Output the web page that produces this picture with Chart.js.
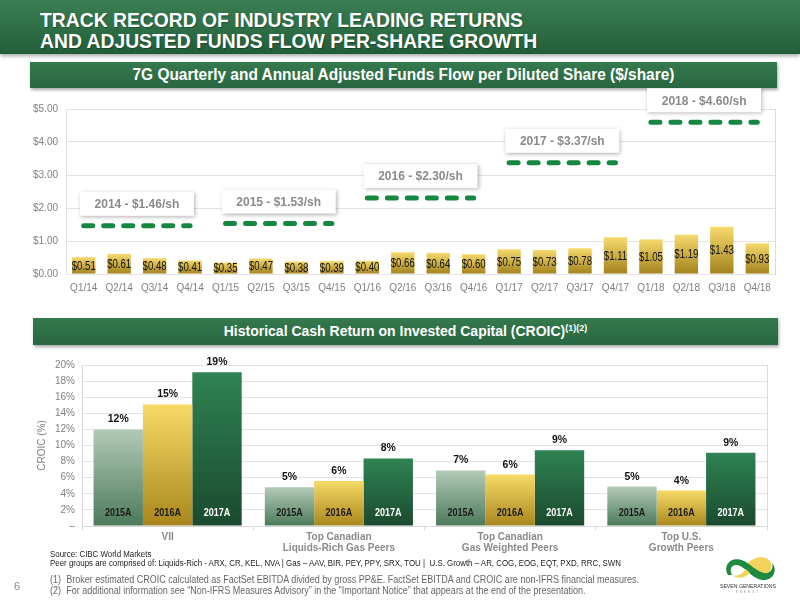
<!DOCTYPE html>
<html>
<head>
<meta charset="utf-8">
<script src="https://cdn.jsdelivr.net/npm/chart.js@4.4.1/dist/chart.umd.min.js"></script>
<style>
  body { margin: 0; width: 800px; height: 600px; position: relative; overflow: hidden; background: #fff; font-family: 'Liberation Sans', Arial, sans-serif; }
  .band { position: absolute; left: 0; top: 0; width: 800px; height: 54px; background: linear-gradient(#3b7e52, #2b6b43 65%, #215d38); box-shadow: 0 2px 4px rgba(0,0,0,.35); }
  .band h1 { margin: 0; position: absolute; left: 40px; top: 9px; color: #fff; font: bold 21px/21px 'Liberation Sans', Arial, sans-serif; white-space: nowrap; transform: scaleX(0.92); transform-origin: 0 0; text-shadow: 1px 1px 1px rgba(0,0,0,.3); }
  .section { position: absolute; background: linear-gradient(#36794c, #286741); box-shadow: 1px 2px 3px rgba(0,0,0,.35); color: #fff; text-align: center; }
  .section div { white-space: nowrap; }
  .s1 { left: 30px; top: 62px; width: 747px; height: 26px; font: bold 16px/26px 'Liberation Sans', Arial, sans-serif; }
  .s1 div { transform: scaleX(0.965); }
  .s2 { left: 33px; top: 318px; width: 745px; height: 27px; font: bold 14px/27px 'Liberation Sans', Arial, sans-serif; }
  .s2 sup { font-size: 9px; line-height: 0; vertical-align: 5px; }
  canvas { position: absolute; }
  #fundsFlow { left: 20px; top: 88px; }
  #croic { left: 20px; top: 352px; }
  .note { position: absolute; left: 50px; white-space: nowrap; transform-origin: 0 0; }
  .src { font-size: 8.5px; color: #222; transform: scaleX(0.93); }
  .fn { font-size: 10px; color: #666; transform: scaleX(0.9); }
  .fn span { display: inline-block; width: 18px; }
  .page { position: absolute; left: 14px; top: 580px; font-size: 11px; color: #888; }
  .logo { position: absolute; left: 716px; top: 551px; width: 64px; height: 46px; }
</style>
</head>
<body>
<div class="band"><h1>TRACK RECORD OF INDUSTRY LEADING RETURNS<br>AND ADJUSTED FUNDS FLOW PER-SHARE GROWTH</h1></div>
<div class="section s1"><div>7G Quarterly and Annual Adjusted Funds Flow per Diluted Share ($/share)</div></div>
<canvas id="fundsFlow" width="765" height="212" style="width:765px;height:212px"></canvas>
<div class="section s2"><div>Historical Cash Return on Invested Capital (CROIC)<sup>(1)(2)</sup></div></div>
<canvas id="croic" width="760" height="208" style="width:760px;height:208px"></canvas>

<div class="note src" style="top:549px">Source: CIBC World Markets</div>
<div class="note src" style="top:558px">Peer groups are comprised of: Liquids-Rich - ARX, CR, KEL, NVA | Gas – AAV, BIR, PEY, PPY, SRX, TOU |&nbsp; U.S. Growth – AR, COG, EOG, EQT, PXD, RRC, SWN</div>
<div class="note fn" style="top:574px"><span>(1)</span>Broker estimated CROIC calculated as FactSet EBITDA divided by gross PP&amp;E. FactSet EBITDA and CROIC are non-IFRS financial measures.</div>
<div class="note fn" style="top:585px"><span>(2)</span>For additional information see “Non-IFRS Measures Advisory” in the “Important Notice” that appears at the end of the presentation.</div>
<div class="page">6</div>
<svg class="logo" viewBox="0 0 64 46">
  <path d="M30 14 C 38 4, 52 4, 55 12 C 58 20, 48 28, 38 24 Z" fill="#f2d35c"/>
  <path d="M12 24 C 6 14, 16 4, 28 10 C 34 13, 40 20, 48 22 C 54 23, 58 18, 56 12 C 62 18, 58 30, 46 29 C 38 28, 32 20, 26 16 C 18 11, 12 16, 16 24 Z" fill="#1d8a3f"/>
  <path d="M16 24 C 20 28, 28 28, 34 22 L 30 18 C 26 24, 20 26, 16 24 Z" fill="#f2d35c"/>
  <text x="32" y="37" text-anchor="middle" font-family="Liberation Sans, Arial" font-size="5" fill="#333" textLength="56" lengthAdjust="spacingAndGlyphs">SEVEN GENERATIONS</text>
  <text x="32" y="42" text-anchor="middle" font-family="Liberation Sans, Arial" font-size="3" fill="#999" letter-spacing="2">ENERGY</text>
</svg>

<script>
// quarterly adjusted funds flow per diluted share ($/share)
const quarters = ['Q1/14', 'Q2/14', 'Q3/14', 'Q4/14', 'Q1/15', 'Q2/15', 'Q3/15', 'Q4/15', 'Q1/16', 'Q2/16',
  'Q3/16', 'Q4/16', 'Q1/17', 'Q2/17', 'Q3/17', 'Q4/17', 'Q1/18', 'Q2/18', 'Q3/18', 'Q4/18'];
const quarterValues = [0.51, 0.61, 0.48, 0.41, 0.35, 0.47, 0.38, 0.39, 0.40, 0.66,
  0.64, 0.60, 0.75, 0.73, 0.78, 1.11, 1.05, 1.19, 1.43, 0.93];
const years = ['2014', '2015', '2016', '2017', '2018'];
const annualValues = [1.46, 1.53, 2.30, 3.37, 4.60];
const dollarTicks = [0, 1, 2, 3, 4, 5];

// CROIC by peer group (%)
const peerGroups = [['VII'], ['Top Canadian', 'Liquids-Rich Gas Peers'], ['Top Canadian', 'Gas Weighted Peers'], ['Top U.S.', 'Growth Peers']];
const croicYears = ['2015A', '2016A', '2017A'];
const croic2015 = [12.0, 4.8, 6.9, 4.9];
const croic2016 = [15.1, 5.6, 6.4, 4.4];
const croic2017 = [19.1, 8.4, 9.4, 9.1];
const croicTicks = [0, 2, 4, 6, 8, 10, 12, 14, 16, 18, 20];

const GREY = '#808080';
const GRID = '#e3e3e3';
const SANS = "'Liberation Sans', Arial, sans-serif";

// no narrow face installed, so squeeze the regular one
function narrowText(ctx, text, x, y, sx) {
  ctx.save();
  ctx.translate(x, y);
  ctx.scale(sx, 1);
  ctx.fillText(text, 0, 0);
  ctx.restore();
}

// vertical gradient per bar, light at the top
function barGradient(top, bottom) {
  return (c) => {
    const chart = c.chart;
    const y = chart.scales.y;
    if (!y || c.type !== 'data') return top;
    const yTop = y.getPixelForValue(c.raw);
    const yBot = y.getPixelForValue(0);
    if (!isFinite(yTop) || !isFinite(yBot) || yTop === yBot) return top;
    const g = chart.ctx.createLinearGradient(0, yTop, 0, yBot);
    g.addColorStop(0, top);
    g.addColorStop(1, bottom);
    return g;
  };
}

const rightBorder = {
  id: 'rightBorder',
  beforeDatasetsDraw(chart) {
    const { ctx, chartArea: a } = chart;
    ctx.save();
    ctx.strokeStyle = '#dcdcdc';
    ctx.lineWidth = 1;
    ctx.beginPath();
    ctx.moveTo(Math.round(a.right) + 0.5, a.top);
    ctx.lineTo(Math.round(a.right) + 0.5, a.bottom);
    ctx.stroke();
    ctx.restore();
  }
};

// $ labels centred in each quarterly bar + annual call-out boxes
const fundsLabels = {
  id: 'fundsLabels',
  afterDatasetsDraw(chart) {
    const { ctx, scales: { x, y } } = chart;
    const meta = chart.getDatasetMeta(0);
    ctx.save();
    ctx.font = '12px ' + SANS;
    ctx.fillStyle = '#111';
    ctx.textAlign = 'center';
    ctx.textBaseline = 'middle';
    meta.data.forEach((bar, i) => {
      narrowText(ctx, '$' + quarterValues[i].toFixed(2), bar.x, (bar.y + bar.base) / 2 + 1, 0.8);
    });
    ctx.restore();

    years.forEach((yr, k) => {
      const cx = (x.getPixelForValue(k * 4) + x.getPixelForValue(k * 4 + 3)) / 2;
      const ly = y.getPixelForValue(annualValues[k]);
      const w = 114, h = 24;
      const bx = cx - w / 2, by = ly - 10 - h;
      ctx.save();
      ctx.shadowColor = 'rgba(0,0,0,0.3)';
      ctx.shadowBlur = 4;
      ctx.shadowOffsetX = 1;
      ctx.shadowOffsetY = 1;
      ctx.fillStyle = '#fff';
      ctx.fillRect(bx, by, w, h);
      ctx.restore();
      ctx.save();
      ctx.font = 'bold 12px ' + SANS;
      ctx.fillStyle = '#8a8a8a';
      ctx.textAlign = 'center';
      ctx.textBaseline = 'middle';
      ctx.fillText(yr + ' - $' + annualValues[k].toFixed(2) + '/sh', cx, by + h / 2 + 1);
      ctx.restore();
    });
  }
};

const annualLines = years.map((yr, k) => ({
  type: 'line',
  label: yr,
  data: quarters.map((q, i) => (Math.floor(i / 4) === k ? annualValues[k] : null)),
  borderColor: '#15873f',
  borderWidth: 5,
  borderDash: [9, 11],
  borderCapStyle: 'round',
  pointRadius: 0,
  spanGaps: false,
  order: 0
}));

new Chart(document.getElementById('fundsFlow'), {
  type: 'bar',
  data: {
    labels: quarters,
    datasets: [{
      label: 'Adjusted funds flow per share',
      data: quarterValues,
      backgroundColor: barGradient('#f6da6c', '#a3821d'),
      borderWidth: 0,
      categoryPercentage: 1,
      barPercentage: 0.66,
      order: 1
    }, ...annualLines]
  },
  options: {
    responsive: false,
    animation: false,
    layout: { padding: { top: 21, right: 10, left: 0, bottom: 0 } },
    plugins: { legend: { display: false }, tooltip: { enabled: false } },
    scales: {
      x: {
        grid: { display: false, drawTicks: false, tickLength: 0 },
        border: { color: GRID },
        ticks: { color: GREY, font: { size: 10, family: SANS }, padding: 8, maxRotation: 0, autoSkip: false },
        afterFit(s) { s.height = 26; }
      },
      y: {
        min: 0,
        max: 5,
        afterBuildTicks(s) { s.ticks = dollarTicks.map(v => ({ value: v })); },
        ticks: { color: GREY, font: { size: 10, family: SANS }, padding: 8, callback: v => '$' + Number(v).toFixed(2) },
        grid: { color: GRID, drawTicks: false },
        border: { color: GRID },
        afterFit(s) { s.width = 46; }
      }
    }
  },
  plugins: [rightBorder, fundsLabels]
});

// % above each bar, year label inside at the base
const croicLabels = {
  id: 'croicLabels',
  afterDatasetsDraw(chart) {
    const { ctx, scales: { y } } = chart;
    const base = y.getPixelForValue(0);
    chart.data.datasets.forEach((ds, d) => {
      chart.getDatasetMeta(d).data.forEach((bar, i) => {
        ctx.save();
        ctx.textAlign = 'center';
        ctx.textBaseline = 'middle';
        ctx.font = 'bold 11px ' + SANS;
        ctx.fillStyle = '#111';
        narrowText(ctx, Math.round(ds.data[i]) + '%', bar.x, bar.y - 10, 0.95);
        ctx.fillStyle = d === 2 ? '#fff' : '#1a1a1a';
        narrowText(ctx, ds.label, bar.x, base - 13, 0.82);
        ctx.restore();
      });
    });
  }
};

const croicSeries = [croic2015, croic2016, croic2017];
const croicColors = [['#b2cab6', '#4c7a5b'], ['#f7da66', '#a8861d'], ['#2f8353', '#1b4a2f']];

new Chart(document.getElementById('croic'), {
  type: 'bar',
  data: {
    labels: peerGroups,
    datasets: croicYears.map((yr, d) => ({
      label: yr,
      data: croicSeries[d],
      backgroundColor: barGradient(croicColors[d][0], croicColors[d][1]),
      borderWidth: 0,
      categoryPercentage: 0.865,
      barPercentage: 1
    }))
  },
  options: {
    responsive: false,
    animation: false,
    layout: { padding: { top: 11, right: 13, left: 0, bottom: 0 } },
    plugins: { legend: { display: false }, tooltip: { enabled: false } },
    scales: {
      x: {
        grid: { offset: true, drawOnChartArea: false, tickLength: 4, color: '#d9d9d9' },
        border: { color: '#d9d9d9' },
        ticks: { color: '#8a8a8a', font: { size: 10, weight: 'bold', family: SANS, lineHeight: 1.1 }, padding: 2, maxRotation: 0, autoSkip: false },
        afterFit(s) { s.height = 34; }
      },
      y: {
        min: 0,
        max: 20,
        afterBuildTicks(s) { s.ticks = croicTicks.map(v => ({ value: v })); },
        ticks: { color: GREY, font: { size: 10, family: SANS }, padding: 7, callback: v => (v === 0 ? '–' : v + '%') },
        grid: { color: GRID, drawTicks: false },
        border: { color: '#d9d9d9' },
        title: { display: true, text: 'CROIC (%)', color: GREY, font: { size: 10, family: SANS }, padding: { top: 16, bottom: 0 } },
        afterFit(s) { s.width = 62; }
      }
    }
  },
  plugins: [rightBorder, croicLabels]
});
</script>
</body>
</html>
